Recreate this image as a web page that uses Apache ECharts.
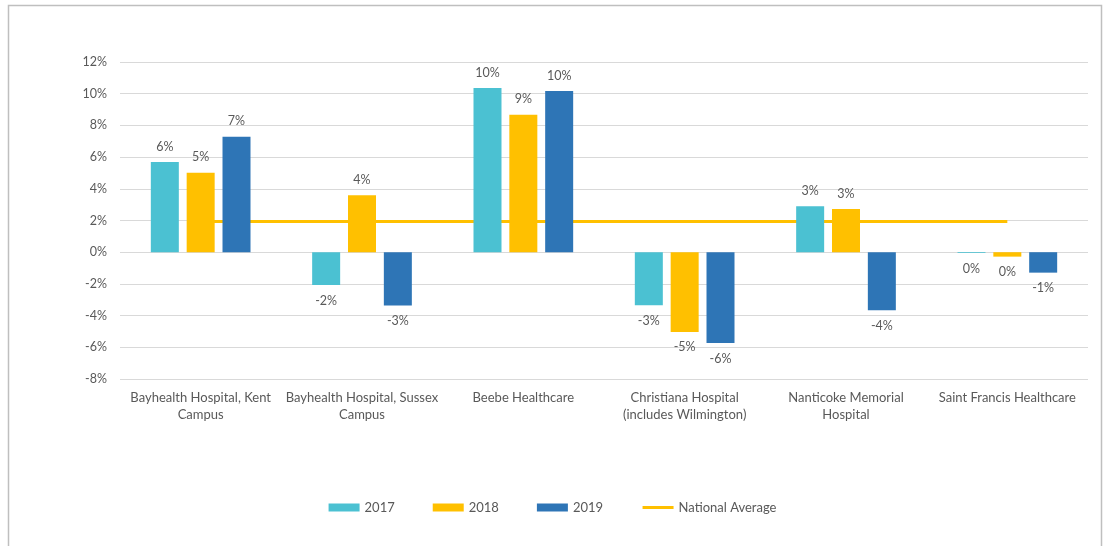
<!DOCTYPE html>
<html>
<head>
<meta charset="utf-8">
<script src="https://cdn.jsdelivr.net/npm/echarts@6/dist/echarts.min.js"></script>
<style>
  html, body { margin: 0; padding: 0; background: #fff; }
  #chart { width: 1105px; height: 546px; }
</style>
</head>
<body>
<div id="chart"></div>
<script>
const categories = [
  'Bayhealth Hospital, Kent\nCampus',
  'Bayhealth Hospital, Sussex\nCampus',
  'Beebe Healthcare',
  'Christiana Hospital\n(includes Wilmington)',
  'Nanticoke Memorial\nHospital',
  'Saint Francis Healthcare'
];
const values2017 = [5.69, -2.07, 10.36, -3.35, 2.9, -0.05];
const values2018 = [5.01, 3.6, 8.67, -5.03, 2.72, -0.28];
const values2019 = [7.28, -3.37, 10.17, -5.73, -3.67, -1.29];
const nationalAverage = [1.93, 1.93, 1.93, 1.93, 1.93, 1.93];
const yTicks = { min: -8, max: 12, step: 2 };

const textColor = '#595959';
const font = 'Lato, "Open Sans", sans-serif';

function barData(values) {
  return values.map(v => ({
    value: v,
    label: { position: v < 0 ? 'bottom' : 'top' }
  }));
}

function barSeries(name, values, color) {
  return {
    name,
    type: 'bar',
    z: 3,
    barWidth: 28,
    barGap: '28%',
    itemStyle: { color },
    label: {
      show: true,
      distance: 9,
      color: textColor,
      fontFamily: font,
      fontSize: 12.5,
      formatter: p => `${Math.round(p.value)}%`
    },
    data: barData(values)
  };
}

const chart = echarts.init(document.getElementById('chart'), null, { renderer: 'canvas' });
chart.setOption({
  animation: false,
  backgroundColor: '#fff',
  graphic: [{
    type: 'rect',
    shape: { x: 8.5, y: 5.5, width: 1093, height: 600 },
    style: { fill: 'none', stroke: '#bfbfbf', lineWidth: 1.5 },
    silent: true
  }],
  grid: { left: 120, right: 17, top: 62, bottom: 167 },
  legend: {
    bottom: 27,
    left: 'center',
    itemWidth: 31,
    itemHeight: 8,
    itemGap: 38,
    textStyle: { color: textColor, fontFamily: font, fontSize: 13 },
    data: [
      { name: '2017', icon: 'rect' },
      { name: '2018', icon: 'rect' },
      { name: '2019', icon: 'rect' },
      { name: 'National Average', itemStyle: { opacity: 0 }, lineStyle: { width: 3 } }
    ]
  },
  xAxis: {
    type: 'category',
    data: categories,
    position: 'bottom',
    axisLine: { show: false, onZero: false },
    axisTick: { show: false },
    axisLabel: {
      color: textColor,
      fontFamily: font,
      fontSize: 13,
      lineHeight: 17,
      margin: 10,
      interval: 0
    }
  },
  yAxis: {
    type: 'value',
    min: yTicks.min,
    max: yTicks.max,
    interval: yTicks.step,
    axisLine: { show: false },
    axisTick: { show: false },
    splitLine: { lineStyle: { color: '#d9d9d9', width: 1 } },
    axisLabel: {
      color: textColor,
      fontFamily: font,
      fontSize: 12.5,
      margin: 13,
      formatter: v => `${v}%`
    }
  },
  series: [
    barSeries('2017', values2017, '#4bc1d2'),
    barSeries('2018', values2018, '#ffc000'),
    barSeries('2019', values2019, '#2e75b6'),
    {
      name: 'National Average',
      type: 'line',
      z: 1,
      symbol: 'none',
      lineStyle: { color: '#ffc000', width: 3 },
      itemStyle: { color: '#ffc000' },
      label: {
        color: textColor,
        fontFamily: font,
        fontSize: 12.5,
        distance: 12,
        formatter: p => `${Math.round(p.value)}%`
      },
      data: nationalAverage.map((v, i) => ({
        value: v,
        label: { show: i === nationalAverage.length - 1, position: 'top' }
      }))
    }
  ]
});
</script>
</body>
</html>
